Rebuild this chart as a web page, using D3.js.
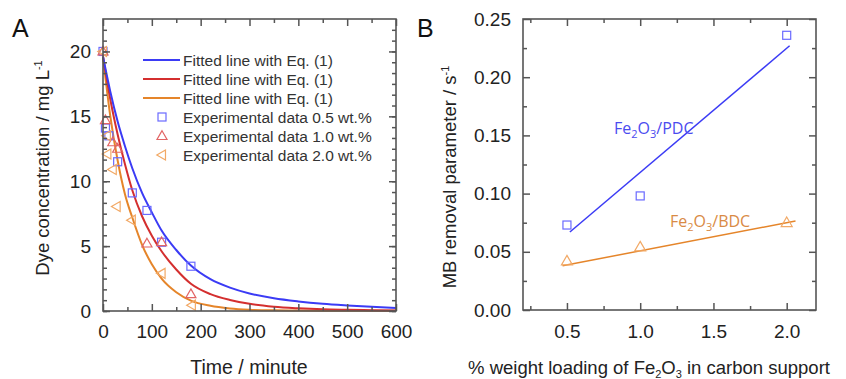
<!DOCTYPE html>
<html>
<head>
<meta charset="utf-8">
<script src="https://cdn.jsdelivr.net/npm/d3@7"></script>
<style>
  body { margin: 0; background: #fff; }
  svg { font-family: "Liberation Sans", Arial, sans-serif; }
  .lbl { font-family: "Open Sans", sans-serif; }
</style>
</head>
<body>
<svg id="chart" width="846" height="379"></svg>
<script>
// ---- panel A data ----
const fitTime = [0, 15, 30, 45, 60, 80, 100, 120, 150, 180, 220, 260, 300, 350, 400, 450, 500, 550, 600];
const fitBlue = [19.6, 16.9, 14.6, 12.7, 11.0, 9.1, 7.6, 6.2, 4.7, 3.5, 2.45, 1.8, 1.35, 0.98, 0.74, 0.56, 0.43, 0.32, 0.24];
const fitRed = [19.6, 16.3, 13.6, 11.3, 9.3, 7.3, 5.8, 4.6, 3.2, 2.1, 1.3, 0.85, 0.55, 0.33, 0.21, 0.13, 0.09, 0.06, 0.04];
const fitOrange = [19.6, 15.0, 11.6, 9.0, 7.2, 5.1, 3.6, 2.5, 1.45, 0.8, 0.4, 0.2, 0.1, 0.05, 0.03, 0.02, 0.02, 0.01, 0.01];

const expTime05 = [0, 5, 12, 30, 60, 90, 120, 180];
const expConc05 = [20, 14.1, 13.5, 11.5, 9.1, 7.75, 5.3, 3.45];
const expTime10 = [0, 5, 20, 30, 90, 120, 180];
const expConc10 = [20, 14.7, 13.0, 12.5, 5.2, 5.3, 1.3];
const expTime20 = [0, 8, 9, 20, 28, 59, 120, 182];
const expConc20 = [20, 13.5, 12.1, 10.9, 8.05, 7.0, 2.9, 0.45];

const legendLabels = ["Fitted line with Eq. (1)", "Fitted line with Eq. (1)", "Fitted line with Eq. (1)",
  "Experimental data 0.5 wt.%", "Experimental data 1.0 wt.%", "Experimental data 2.0 wt.%"];

const xTicksA = [0, 100, 200, 300, 400, 500, 600];
const yTicksA = [0, 5, 10, 15, 20];

// ---- panel B data ----
const loading = [0.5, 1.0, 2.0];
const kPDC = [0.073, 0.098, 0.236];
const kBDC = [0.042, 0.054, 0.075];
const fitPDCx = [0.52, 2.02];
const fitPDCy = [0.067, 0.227];
const fitBDCx = [0.47, 2.06];
const fitBDCy = [0.038, 0.0765];
const xTicksB = [0.5, 1.0, 1.5, 2.0];
const yTicksB = [0, 0.05, 0.10, 0.15, 0.20, 0.25];

const BLUE = "#3b3bf5", RED = "#d42f2f", ORANGE = "#e5852a";
const BLUE_M = "#6a6aff", RED_M = "#e26565", ORANGE_M = "#f2a966";
const AXIS = "#555";

const svg = d3.select("#chart");

// boxed frame, ticks pointing inward on all four sides
function frame(g, x, y, xMajor, xMinor, yMajor, yMinor, xFmt, yFmt, xPad, yPad) {
  const [x0, x1] = x.range(), [y0, y1] = y.range();
  const ax = [
    [d3.axisBottom(x), `translate(0,${y0})`, xMajor, xMinor, xFmt, xPad],
    [d3.axisTop(x), `translate(0,${y1})`, xMajor, xMinor, () => "", 0],
    [d3.axisLeft(y), `translate(${x0},0)`, yMajor, yMinor, yFmt, yPad],
    [d3.axisRight(y), `translate(${x1},0)`, yMajor, yMinor, () => "", 0]
  ];
  ax.forEach(([a, tr, maj, min, fmt, pad]) => {
    g.append("g").attr("transform", tr)
      .call(a.tickValues(maj).tickSize(-7).tickPadding(pad).tickFormat(fmt))
      .call(s => s.select(".domain").remove())
      .call(s => s.selectAll("line").attr("stroke", AXIS).attr("stroke-width", 1.5))
      .call(s => s.selectAll("text").attr("fill", "#222").style("font-size", "19px"));
    g.append("g").attr("transform", tr)
      .call(a.tickValues(min).tickSize(-4).tickFormat(() => ""))
      .call(s => s.select(".domain").remove())
      .call(s => s.selectAll("line").attr("stroke", AXIS).attr("stroke-width", 1.5));
  });
  g.append("rect").attr("x", x0).attr("y", y1).attr("width", x1 - x0).attr("height", y0 - y1)
    .attr("fill", "none").attr("stroke", AXIS).attr("stroke-width", 1.6);
}

function square(g, cx, cy, s, col) {
  g.append("rect").attr("x", cx - s / 2).attr("y", cy - s / 2).attr("width", s).attr("height", s)
    .attr("fill", "none").attr("stroke", col).attr("stroke-width", 1.2);
}
function triUp(g, cx, cy, s, col) {
  const h = s * 0.87;
  g.append("path").attr("d", `M${cx},${cy - h * 0.6}L${cx + s / 2},${cy + h * 0.4}L${cx - s / 2},${cy + h * 0.4}Z`)
    .attr("fill", "none").attr("stroke", col).attr("stroke-width", 1.2);
}
function triLeft(g, cx, cy, s, col) {
  const h = s * 0.87;
  g.append("path").attr("d", `M${cx - h * 0.6},${cy}L${cx + h * 0.4},${cy - s / 2}L${cx + h * 0.4},${cy + s / 2}Z`)
    .attr("fill", "none").attr("stroke", col).attr("stroke-width", 1.2);
}

// ===================== Panel A =====================
const gA = svg.append("g");
const xA = d3.scaleLinear().domain([0, 600]).range([103, 396]);
const yA = d3.scaleLinear().domain([0, 22.5]).range([311, 19]);

const lineA = (vals) => d3.line().x((d, i) => xA(fitTime[i])).y(d => yA(d)).curve(d3.curveMonotoneX)(vals);
[[fitOrange, ORANGE], [fitRed, RED], [fitBlue, BLUE]].forEach(([v, c]) => {
  gA.append("path").attr("d", lineA(v)).attr("fill", "none").attr("stroke", c).attr("stroke-width", 2);
});

expTime05.forEach((t, i) => square(gA, xA(t), yA(expConc05[i]), 8, BLUE_M));
expTime10.forEach((t, i) => triUp(gA, xA(t), yA(expConc10[i]), 10, RED_M));
expTime20.forEach((t, i) => triLeft(gA, xA(t), yA(expConc20[i]), 10, ORANGE_M));

frame(gA, xA, yA, xTicksA, d3.range(50, 600, 100), yTicksA, d3.range(0, 22.5, 5 / 6),
  d3.format("d"), d3.format("d"), 14, 12);

// legend
const legCols = [BLUE, RED, ORANGE, BLUE_M, RED_M, ORANGE_M];
legendLabels.forEach((lab, i) => {
  const ly = 60 + i * 19;
  if (i < 3) {
    gA.append("line").attr("x1", 143).attr("x2", 180).attr("y1", ly).attr("y2", ly)
      .attr("stroke", legCols[i]).attr("stroke-width", 2);
  } else if (i === 3) square(gA, 162, ly, 8, legCols[i]);
  else if (i === 4) triUp(gA, 162, ly, 10, legCols[i]);
  else triLeft(gA, 162, ly, 10, legCols[i]);
  gA.append("text").attr("x", 183).attr("y", ly + 5.5).attr("fill", "#333")
    .style("font-size", "15.5px").text(lab);
});

gA.append("text").attr("x", 249).attr("y", 374).attr("text-anchor", "middle")
  .style("font-size", "19.5px").attr("fill", "#222").text("Time / minute");
const ytA = gA.append("text").attr("transform", "translate(49,168) rotate(-90)")
  .attr("text-anchor", "middle").style("font-size", "18.5px").attr("fill", "#222");
ytA.append("tspan").text("Dye concentration / mg L");
ytA.append("tspan").attr("dy", -7).style("font-size", "11px").text("-1");
gA.append("text").attr("x", 12).attr("y", 37).style("font-size", "25px").attr("fill", "#111").text("A");

// ===================== Panel B =====================
const gB = svg.append("g");
const xB = d3.scaleLinear().domain([0.2, 2.2]).range([523, 816]);
const yB = d3.scaleLinear().domain([0, 0.25]).range([310, 19]);

gB.append("path").attr("d", d3.line().x((d, i) => xB(fitPDCx[i])).y(d => yB(d))(fitPDCy))
  .attr("fill", "none").attr("stroke", BLUE).attr("stroke-width", 1.5);
gB.append("path").attr("d", d3.line().x((d, i) => xB(fitBDCx[i])).y(d => yB(d))(fitBDCy))
  .attr("fill", "none").attr("stroke", ORANGE).attr("stroke-width", 1.5);
loading.forEach((l, i) => square(gB, xB(l), yB(kPDC[i]), 8, BLUE_M));
loading.forEach((l, i) => triUp(gB, xB(l), yB(kBDC[i]), 11, ORANGE_M));

frame(gB, xB, yB, xTicksB, [0.25, 0.75, 1.25, 1.75], yTicksB, d3.range(0.025, 0.25, 0.05),
  d3.format(".1f"), d3.format(".2f"), 15, 12);

function chem(g, x, y, col, tail) {
  const t = g.append("text").attr("class", "lbl").attr("x", x).attr("y", y).attr("fill", col)
    .style("font-size", "16px");
  t.append("tspan").text("Fe");
  t.append("tspan").attr("dy", 4).style("font-size", "11px").text("2");
  t.append("tspan").attr("dy", -4).text("O");
  t.append("tspan").attr("dy", 4).style("font-size", "11px").text("3");
  t.append("tspan").attr("dy", -4).text(tail);
}
chem(gB, 614, 134, "#4b4bef", "/PDC");
chem(gB, 670, 227, "#d98a45", "/BDC");

const xtB = gB.append("text").attr("x", 649).attr("y", 374).attr("text-anchor", "middle")
  .style("font-size", "18.5px").attr("fill", "#222");
xtB.append("tspan").text("% weight loading of Fe");
xtB.append("tspan").attr("dy", 4).style("font-size", "11px").text("2");
xtB.append("tspan").attr("dy", -4).text("O");
xtB.append("tspan").attr("dy", 4).style("font-size", "11px").text("3");
xtB.append("tspan").attr("dy", -4).text(" in carbon support");
const ytB = gB.append("text").attr("transform", "translate(456,177) rotate(-90)")
  .attr("text-anchor", "middle").style("font-size", "18.5px").attr("fill", "#222");
ytB.append("tspan").text("MB removal parameter / s");
ytB.append("tspan").attr("dy", -7).style("font-size", "11px").text("-1");
gB.append("text").attr("x", 417).attr("y", 37).style("font-size", "25px").attr("fill", "#111").text("B");
</script>
</body>
</html>
